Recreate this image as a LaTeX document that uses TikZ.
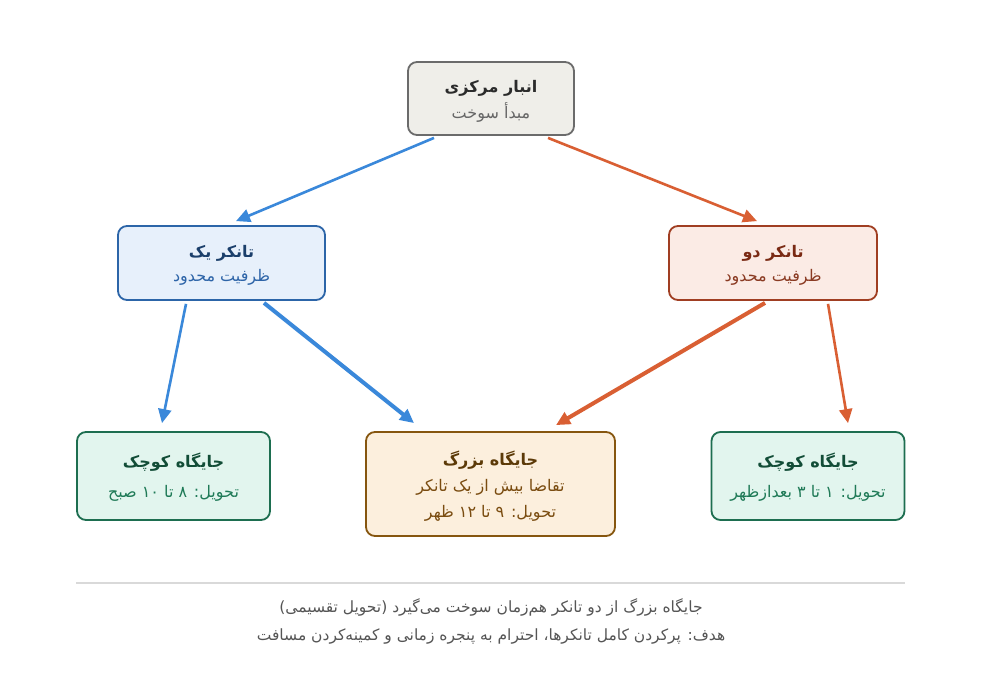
\documentclass[tikz,border=0pt]{standalone}
\usepackage{fontspec}
\usetikzlibrary{arrows.meta,calc}
\TeXXeTstate=1
\newfontfamily\arabicfont[Script=Arabic]{DejaVu Sans}
\definecolor{cenfill}{HTML}{EFEEE9}\definecolor{cendraw}{HTML}{6B6B6B}
\definecolor{centitle}{HTML}{2B2B2B}\definecolor{censub}{HTML}{666666}
\definecolor{bfill}{HTML}{E7F0FB}\definecolor{bdraw}{HTML}{2C65A8}
\definecolor{btitle}{HTML}{1B3F6B}\definecolor{bsub}{HTML}{2D64A8}
\definecolor{rfill}{HTML}{FBEBE5}\definecolor{rdraw}{HTML}{A03E22}
\definecolor{rtitle}{HTML}{7A2A14}\definecolor{rsub}{HTML}{8A3A22}
\definecolor{gfill}{HTML}{E2F5EE}\definecolor{gdraw}{HTML}{1D6E50}
\definecolor{gtitle}{HTML}{124D37}\definecolor{gsub}{HTML}{1F7A57}
\definecolor{ofill}{HTML}{FCEFDD}\definecolor{odraw}{HTML}{86560F}
\definecolor{otitle}{HTML}{5C3A08}\definecolor{osub}{HTML}{7A4C10}
\definecolor{barrow}{HTML}{3A88DA}\definecolor{rarrow}{HTML}{D95F33}
\definecolor{footgray}{HTML}{555555}\definecolor{rulegray}{HTML}{D9D9D9}
\newcommand{\ttl}[1]{{\bfseries\beginR #1\endR}}
\newcommand{\sbt}[1]{{\beginR #1\endR}}
\begin{document}
\begin{tikzpicture}[x=1pt,y=-1pt,
  box/.style={draw, line width=1.8pt, rounded corners=9pt, inner sep=0pt},
  txt/.style={align=center, inner sep=0pt, font=\arabicfont\fontsize{16}{26}\selectfont},
  cenbox/.style={box, fill=cenfill, draw=cendraw, minimum width=166pt, minimum height=73pt},
  bbox/.style={box, fill=bfill, draw=bdraw, minimum width=207pt, minimum height=74pt},
  rbox/.style={box, fill=rfill, draw=rdraw, minimum width=208pt, minimum height=74pt},
  gbox/.style={box, fill=gfill, draw=gdraw, minimum width=193pt, minimum height=88pt},
  obox/.style={box, fill=ofill, draw=odraw, minimum width=249pt, minimum height=104pt},
  arr/.style={-{Triangle[length=14pt,width=13pt]}},
  thinb/.style={arr, draw=barrow, fill=barrow, line width=2.6pt},
  thickb/.style={arr, draw=barrow, fill=barrow, line width=4pt},
  thinr/.style={arr, draw=rarrow, fill=rarrow, line width=2.6pt},
  thickr/.style={arr, draw=rarrow, fill=rarrow, line width=4pt},
  foot/.style={font=\arabicfont\fontsize{15.5}{18}\selectfont, text=footgray}
]
\useasboundingbox (0,0) rectangle (981,687);
\fill[white] (0,0) rectangle (981,687);

\node[cenbox] (cen) at (491,98.5) {};
\node[txt] (cenT) at ([yshift=-3pt]cen.center) {\textcolor{centitle}{\ttl{انبار مرکزی}}\\\textcolor{censub}{\sbt{مبدأ سوخت}}};
\node[bbox] (t1) at (221.5,263) {};
\node[txt] (t1T) at ([yshift=-2pt]t1.center) {\textcolor{btitle}{\ttl{تانکر یک}}\\[-2pt]\textcolor{bsub}{\sbt{ظرفیت محدود}}};
\node[rbox] (t2) at (773,263) {};
\node[txt] (t2T) at ([yshift=-2pt]t2.center) {\textcolor{rtitle}{\ttl{تانکر دو}}\\[-2pt]\textcolor{rsub}{\sbt{ظرفیت محدود}}};
\node[gbox] (sl) at (173.5,476) {};
\node[txt] (slT) at ([yshift=-1pt]sl.center) {\textcolor{gtitle}{\ttl{جایگاه کوچک}}\\[4pt]\textcolor{gsub}{\sbt{تحویل: ۸ تا ۱۰ صبح}}};
\node[obox] (big) at (490.5,484) {};
\node[txt] (bigT) at ([yshift=-2pt]big.center) {\textcolor{otitle}{\ttl{جایگاه بزرگ}}\\\textcolor{osub}{\sbt{تقاضا بیش از یک تانکر}}\\\textcolor{osub}{\sbt{تحویل: ۹ تا ۱۲ ظهر}}};
\node[gbox] (sr) at (808,476) {};
\node[txt] (srT) at ([yshift=-1pt]sr.center) {\textcolor{gtitle}{\ttl{جایگاه کوچک}}\\[4pt]\textcolor{gsub}{\sbt{تحویل: ۱ تا ۳ بعدازظهر}}};

\draw[thinb] ([xshift=-57pt,yshift=-2pt]cen.south) -- ([xshift=14.5pt,yshift=4pt]t1.north);
\draw[thinr] ([xshift=57pt,yshift=-2pt]cen.south) -- ([xshift=-16pt,yshift=4pt]t2.north);
\draw[thinb] ([xshift=-35.5pt,yshift=-3pt]t1.south) -- ([xshift=-11.5pt,yshift=8pt]sl.north);
\draw[thickb] ([xshift=42.5pt,yshift=-2pt]t1.south) -- ([xshift=-76.5pt,yshift=8pt]big.north);
\draw[thickr] ([xshift=-8pt,yshift=-2pt]t2.south) -- ([xshift=65.5pt,yshift=6pt]big.north);
\draw[thinr] ([xshift=55pt,yshift=-3pt]t2.south) -- ([xshift=40pt,yshift=8pt]sr.north);

\coordinate (rl) at (76,583);
\coordinate (rr) at (905,583);
\draw[rulegray, line width=1.2pt] (rl) -- (rr);
\node[foot] (f1) at (491,607) {\beginR جایگاه بزرگ از دو تانکر هم‌زمان سوخت می‌گیرد (تحویل تقسیمی)\endR};
\node[foot] (f2) at (491,636) {\beginR هدف: پرکردن کامل تانکرها، احترام به پنجره زمانی و کمینه‌کردن مسافت\endR};
\end{tikzpicture}
\end{document}
